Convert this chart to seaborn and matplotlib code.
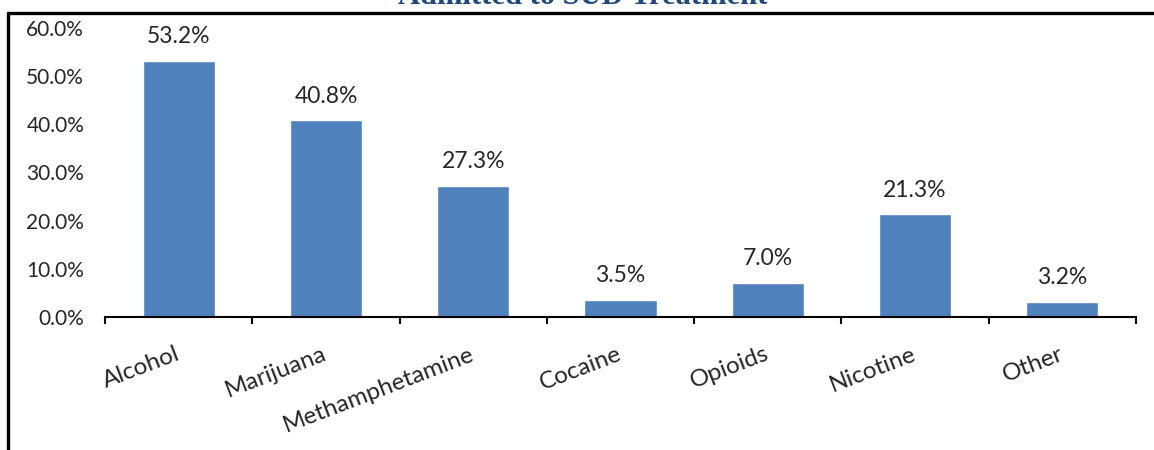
import numpy as np
import pandas as pd
import matplotlib
matplotlib.use("Agg")
import matplotlib.pyplot as plt
import seaborn as sns
from matplotlib.lines import Line2D

# substances and share of admissions (%)
substances = ["Alcohol", "Marijuana", "Methamphetamine", "Cocaine",
              "Opioids", "Nicotine", "Other"]
percents = [53.2, 40.8, 27.3, 3.5, 7.0, 21.3, 3.2]
y_ticks = [0, 10, 20, 30, 40, 50, 60]
title = "Admitted to SUD Treatment"

sns.set_style("white")
plt.rcParams["font.family"] = ["Lato", "DejaVu Sans"]

df = pd.DataFrame({"substance": substances, "percent": percents})

fig = plt.figure(figsize=(11.54, 4.5), dpi=100)
ax = fig.add_axes([105 / 1154, 1 - 317 / 450, (1136 - 105) / 1154, 289 / 450])

sns.barplot(data=df, x="substance", y="percent", color="#4F81BD",
            saturation=1, width=0.49, ax=ax)

ax.set_xlim(-0.5, len(substances) - 0.5)
ax.set_ylim(0, 60)
ax.set_yticks(y_ticks)
ax.set_yticklabels([f"{v:.1f}%" for v in y_ticks], fontsize=15)
ax.tick_params(axis="y", length=0, pad=15)
ax.set_xlabel("")
ax.set_ylabel("")

# category labels, rotated, ending at the bar centre
ax.set_xticks(range(len(substances)))
ax.set_xticklabels(substances, rotation=21, ha="right", va="center",
                   rotation_mode="anchor", fontsize=17.5)
ax.tick_params(axis="x", which="major", length=0, pad=26)
ax.set_xticks(np.arange(-0.5, len(substances), 1), minor=True)
ax.tick_params(axis="x", which="minor", bottom=True, length=5, width=1.5,
               direction="out", color="black")

for s in ["top", "right", "left"]:
    ax.spines[s].set_visible(False)
ax.spines["bottom"].set_color("black")
ax.spines["bottom"].set_linewidth(1.5)

for i, v in enumerate(percents):
    ax.annotate(f"{v:.1f}%", (i, v), xytext=(0, 10), textcoords="offset points",
                ha="center", va="bottom", fontsize=16.5)

# outer frame (top and left edges visible)
fig.add_artist(Line2D([7.5 / 1154, 1], [1 - 12.5 / 450, 1 - 12.5 / 450],
                      transform=fig.transFigure, color="black", lw=2.4))
fig.add_artist(Line2D([7.5 / 1154, 7.5 / 1154], [0, 1 - 12.5 / 450],
                      transform=fig.transFigure, color="black", lw=2.4))

# title is cut off by the top of the image
fig.text(583 / 1154, 1 - 4 / 450, title, ha="center", va="baseline",
         fontsize=22, fontweight="bold", color="#1F497D",
         family=["Liberation Serif", "DejaVu Serif"])

fig.savefig("out.png", dpi=100)
